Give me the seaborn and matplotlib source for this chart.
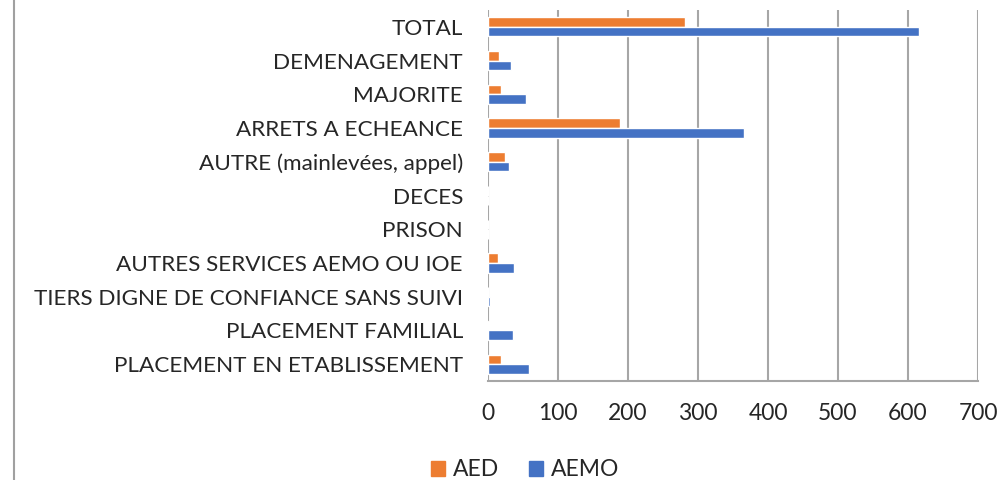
import pandas as pd
import seaborn as sns
import matplotlib.pyplot as plt
from matplotlib.lines import Line2D

categories = ['TOTAL', 'DEMENAGEMENT', 'MAJORITE', 'ARRETS A ECHEANCE',
              'AUTRE (mainlevées, appel)', 'DECES', 'PRISON',
              'AUTRES SERVICES AEMO OU IOE', 'TIERS DIGNE DE CONFIANCE SANS SUIVI',
              'PLACEMENT FAMILIAL', 'PLACEMENT EN ETABLISSEMENT']
aed = [281, 16, 18, 188, 24, 0, 0, 14, 0, 2, 19]
aemo = [616, 33, 54, 366, 30, 0, 0, 37, 3, 36, 59]
series = ['AED', 'AEMO']
colors = ['#ED7D31', '#4472C4']

df = pd.DataFrame({'cat': categories * 2,
                   'val': aed + aemo,
                   'serie': ['AED'] * len(aed) + ['AEMO'] * len(aemo)})

sns.set_style('white')
plt.rcParams['font.family'] = ['Lato', 'DejaVu Sans']

fig = plt.figure(figsize=(10.02, 4.80), dpi=100)
ax = fig.add_axes([488 / 1002, 1 - 381 / 480, 490 / 1002, 371 / 480])

sns.barplot(data=df, x='val', y='cat', hue='serie', order=categories,
            hue_order=series, palette=colors, width=0.57, orient='h',
            saturation=1, ax=ax, legend=False)

ax.set_xlim(0, 700)
ax.set_xticks(range(0, 701, 100))
ax.grid(axis='x', color='#A6A6A6', linewidth=1.5)
ax.set_axisbelow(True)
for s in ['top', 'right', 'left']:
    ax.spines[s].set_visible(False)
ax.spines['bottom'].set_color('#A6A6A6')
ax.spines['bottom'].set_linewidth(1.5)
ax.set_xlabel('')
ax.set_ylabel('')
ax.tick_params(axis='y', length=0, pad=18, labelsize=16.2)
ax.tick_params(axis='x', length=0, pad=16, labelsize=16.5)

# cadre du graphique (bord gauche)
fig.add_artist(Line2D([13.5 / 1002, 13.5 / 1002], [0, 1], color='#A0A0A0', linewidth=1.5))

handles = [plt.Rectangle((0, 0), 1, 1, color=c) for c in colors]
fig.legend(handles, series, loc='center', bbox_to_anchor=(525 / 1002, 1 - 470 / 480),
           ncol=2, frameon=False, fontsize=16.5, handlelength=0.6, handleheight=0.6,
           handletextpad=0.35, columnspacing=1.3)

fig.savefig('out.png', dpi=100)
